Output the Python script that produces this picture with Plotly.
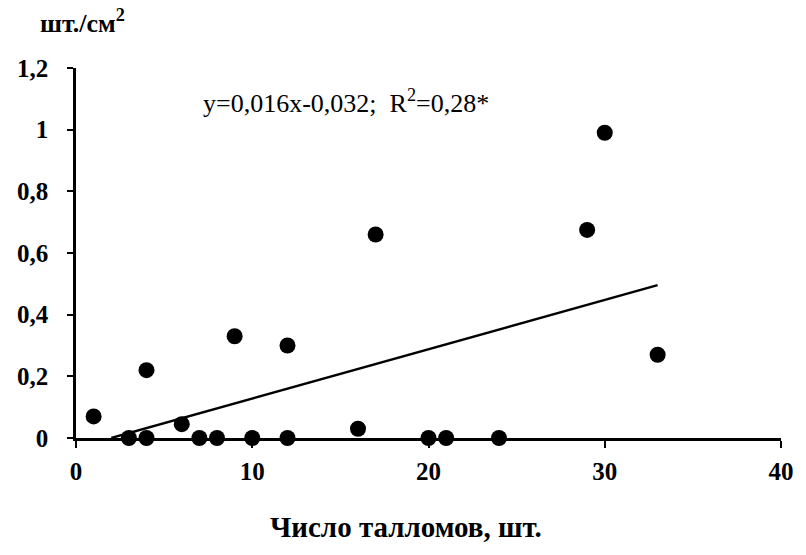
import plotly.graph_objects as go

x_vals = [1, 3, 4, 4, 6, 7, 8, 9, 10, 12, 12, 16, 17, 20, 21, 24, 29, 30, 33]
y_vals = [0.07, 0, 0, 0.22, 0.045, 0, 0, 0.33, 0, 0.30, 0, 0.03, 0.66, 0, 0, 0, 0.675, 0.99, 0.27]
trend_x = [2, 33]
slope, intercept = 0.016, -0.032
trend_y = [slope * v + intercept for v in trend_x]
x_ticks = [0, 10, 20, 30, 40]
y_ticks = [0, 0.2, 0.4, 0.6, 0.8, 1, 1.2]
y_tick_text = ["0", "0,2", "0,4", "0,6", "0,8", "1", "1,2"]

font_serif = "Liberation Serif, Times New Roman, serif"

L, R, T, B = 76, 16, 68, 117
W, H = 806, 555
plot_w = W - L - R
plot_h = H - T - B


def px_to_paper(px, py):
    return (px - L) / plot_w, (H - B - py) / plot_h


fig = go.Figure()
fig.add_trace(go.Scatter(x=trend_x, y=trend_y, mode="lines",
                         line=dict(color="black", width=2.4), cliponaxis=False,
                         showlegend=False, hoverinfo="skip"))
fig.add_trace(go.Scatter(x=x_vals, y=y_vals, mode="markers",
                         marker=dict(color="black", size=16, line=dict(width=0)),
                         cliponaxis=False, showlegend=False))

ytx, yty = px_to_paper(38, 22)
xtx, xty = px_to_paper(410, 527)

fig.update_layout(
    width=W, height=H,
    margin=dict(l=L, r=R, t=T, b=B),
    paper_bgcolor="white", plot_bgcolor="white",
    font=dict(family=font_serif, color="black"),
    separators=", ",
    xaxis=dict(range=[0, 40], tickvals=x_ticks, ticks="outside", ticklen=7,
               tickwidth=2, tickcolor="black", showline=True, linecolor="black",
               linewidth=2.5, showgrid=False, zeroline=False,
               tickfont=dict(family=font_serif, size=25, color="black", weight="bold"),
               ticklabelstandoff=2),
    yaxis=dict(range=[0, 1.2], tickvals=y_ticks, ticktext=y_tick_text,
               ticks="outside", ticklen=6, tickwidth=2, tickcolor="black",
               showline=True, linecolor="black", linewidth=2.5, showgrid=False,
               zeroline=False,
               tickfont=dict(family=font_serif, size=25, color="black", weight="bold"),
               ticklabelstandoff=14),
    annotations=[
        dict(x=7.1, y=1.09, xref="x", yref="y", xanchor="left", yanchor="middle",
             text="y=0,016x-0,032;  R<sup>2</sup>=0,28*", showarrow=False,
             font=dict(family=font_serif, size=26, color="black")),
        dict(x=ytx, y=yty, xref="paper", yref="paper", showarrow=False,
             text="шт./см<sup>2</sup>", xanchor="left", yanchor="middle",
             font=dict(family=font_serif, size=26, color="black", weight="bold")),
        dict(x=xtx, y=xty, xref="paper", yref="paper", showarrow=False,
             text="Число талломов, шт.",
             xanchor="center", yanchor="middle",
             font=dict(family=font_serif, size=29, color="black", weight="bold")),
    ],
)

fig.write_html("out.html")
